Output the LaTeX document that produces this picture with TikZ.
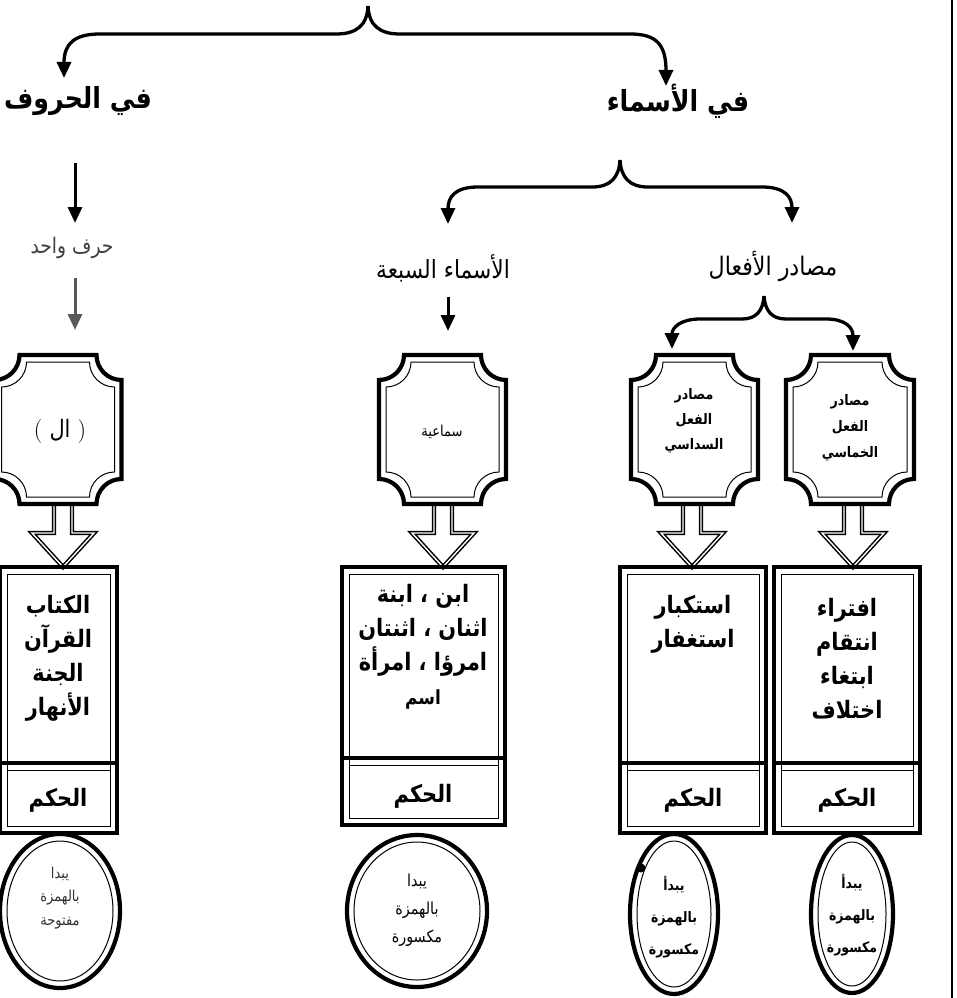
\documentclass[tikz,border=0pt]{standalone}
\usepackage{fontspec}
\usetikzlibrary{arrows.meta,calc}
\TeXXeTstate=1
\newfontfamily\arabicfont[Script=Arabic,FakeStretch=0.87]{DejaVu Sans}
\newcommand\AR[1]{{\arabicfont\beginR #1\endR}}
\newcommand\fsz[2]{\fontsize{#1}{#2}\selectfont}

% frame with concave (cut-in) corners drawn round a holder node
\newcommand\plaqueframe[1]{%
  \draw[frameout] let \p1=(#1.north west), \p2=(#1.south east) in
    (\x1+25pt,\y1) -- (\x2-25pt,\y1) arc[start angle=180,end angle=270,radius=25pt]
    -- (\x2,\y2+25pt) arc[start angle=90,end angle=180,radius=25pt]
    -- (\x1+25pt,\y2) arc[start angle=0,end angle=90,radius=25pt]
    -- (\x1,\y1-25pt) arc[start angle=270,end angle=360,radius=25pt] -- cycle;
  \draw[framein] let \p1=($(#1.north west)+(7,7)$), \p2=($(#1.south east)+(-7,-7)$) in
    (\x1+25pt,\y1) -- (\x2-25pt,\y1) arc[start angle=180,end angle=270,radius=25pt]
    -- (\x2,\y2+25pt) arc[start angle=90,end angle=180,radius=25pt]
    -- (\x1+25pt,\y2) arc[start angle=0,end angle=90,radius=25pt]
    -- (\x1,\y1-25pt) arc[start angle=270,end angle=360,radius=25pt] -- cycle;
}
% double-ruled box with a double divider at height #2
\newcommand\ruledbox[2]{%
  \draw[frameout] (#1.north west) rectangle (#1.south east);
  \draw[framein] ($(#1.north west)+(7,7)$) rectangle ($(#1.south east)+(-7,-7)$);
  \draw[line width=3.4pt] (#1.west |- 0,#2) -- (#1.east |- 0,#2);
  \draw[framein] ($(#1.west |- 0,#2)+(7,7)$) -- ($(#1.east |- 0,#2)+(-7,7)$);
}
% double ring round a holder node
\newcommand\ringframe[3]{%
  \draw[frameout] (#1.center) ellipse[x radius=#2pt, y radius=#3pt];
  \draw[framein] (#1.center) ellipse[x radius=#2pt-7pt, y radius=#3pt-7pt];
}
% hollow block arrow from a plaque down to a box, at abscissa #3
\newcommand\blockarrow[3]{%
  \draw[blockarr] let \p1=(#1.south), \p2=(#2.north) in
    (#3pt-9pt,\y1) -- (#3pt-9pt,\y2+34pt) -- (#3pt-31pt,\y2+34pt) -- (#3pt,\y2)
    -- (#3pt+31pt,\y2+34pt) -- (#3pt+9pt,\y2+34pt) -- (#3pt+9pt,\y1);
}

\tikzset{
  holder/.style={inner sep=0pt, outer sep=0pt, draw=none},
  txt/.style={inner sep=0pt, align=center},
  hd/.style={inner sep=0pt, font=\bfseries\fsz{29}{32}},
  bx/.style={inner sep=0pt, align=center, font=\bfseries\fsz{24}{34}},
  frameout/.style={line width=4.2pt, line join=miter},
  framein/.style={line width=1pt, line join=miter},
  brc/.style={line width=3.3pt, -{Triangle[width=14pt,length=16pt]}},
  arr/.style={line width=3pt, -{Triangle[width=14pt,length=16pt]}},
  blockarr/.style={draw=black, line width=1.5pt, double=white, double distance=1.4pt, line join=miter},
}

\begin{document}
\begin{tikzpicture}[x=1pt,y=-1pt]
\useasboundingbox (0,0) rectangle (957,998);
\clip (0,0) rectangle (957,998);

% headings
\node[hd] (huruf) at (78,101) {\AR{في الحروف}};
\node[hd] (asma) at (678,101) {\AR{في الأسماء}};
\node[txt, font=\fsz{21.5}{22}, text=black!75] (wahid) at (72,248) {\AR{حرف واحد}};
\node[txt, font=\fsz{25}{26}] (sabaa) at (443,268) {\AR{الأسماء السبعة}};
\node[txt, font=\fsz{25.5}{26}] (masadir) at (773,266) {\AR{مصادر الأفعال}};

% braces
\coordinate (k1) at (368,6);
\coordinate (t1) at (64,78);
\coordinate (t2) at (666,86);
\draw[brc] (k1) .. controls (367,26) and (356,34) .. (336,34) -- (100,34) .. controls (74,34) and (64,44) .. (t1);
\draw[brc] (k1) .. controls (369,26) and (380,34) .. (400,34) -- (630,34) .. controls (656,34) and (666,44) .. (t2);

\coordinate (k2) at (620,160);
\coordinate (t3) at (448,224);
\coordinate (t4) at (792,223);
\draw[brc] (k2) .. controls (619,178) and (610,187) .. (592,187) -- (478,187) .. controls (455,187) and (448,197) .. (t3);
\draw[brc] (k2) .. controls (621,178) and (630,187) .. (648,187) -- (762,187) .. controls (785,187) and (792,197) .. (t4);

\coordinate (k3) at (764,296);
\coordinate (t5) at (672,349);
\coordinate (t6) at (853,351);
\draw[brc] (k3) .. controls (763,311) and (756,319) .. (742,319) -- (700,319) .. controls (680,319) and (672,328) .. (t5);
\draw[brc] (k3) .. controls (765,311) and (772,319) .. (786,319) -- (826,319) .. controls (846,319) and (853,328) .. (t6);

% straight arrows
\coordinate (a1) at (75,163);
\coordinate (a2) at (75,223);
\coordinate (a3) at (75,278);
\coordinate (a4) at (75,330);
\coordinate (a5) at (448,297);
\coordinate (a6) at (448,331);
\draw[arr] (a1) -- (a2);
\draw[arr, black!65] (a3) -- (a4);
\draw[arr] (a5) -- (a6);

% plaques
\node[holder, minimum width=127pt, minimum height=149pt] (p1) at (58,429.5) {};
\node[holder, minimum width=127pt, minimum height=149pt] (p2) at (442.5,429.5) {};
\node[holder, minimum width=127pt, minimum height=149pt] (p3) at (694.5,429.5) {};
\node[holder, minimum width=128pt, minimum height=149pt] (p4) at (850,429.5) {};
\node[txt, font=\fsz{24}{26}] (p1t) at (60,431) {( \AR{ال} )};
\node[txt, font=\fsz{15}{18}] (p2t) at (442,432) {\AR{سماعية}};
\node[txt, font=\bfseries\fsz{14.5}{25}] (p3t) at (694,421) {\AR{مصادر}\\\AR{الفعل}\\\AR{السداسي}};
\node[txt, font=\bfseries\fsz{14.5}{26}] (p4t) at (850,428) {\AR{مصادر}\\\AR{الفعل}\\\AR{الخماسي}};

% boxes
\node[holder, minimum width=117pt, minimum height=266pt] (b1) at (58.5,700) {};
\node[holder, minimum width=163pt, minimum height=258pt] (b2) at (423.5,696) {};
\node[holder, minimum width=146pt, minimum height=266pt] (b3) at (693,700) {};
\node[holder, minimum width=146pt, minimum height=266pt] (b4) at (847,700) {};
\node[bx] (b1t) at (58,658) {\AR{الكتاب}\\\AR{القرآن}\\\AR{الجنة}\\\AR{الأنهار}};
\node[bx] (b2t) at (423,647) {\AR{ابن ، ابنة}\\\AR{اثنان ، اثنتان}\\\AR{امرؤا ، امرأة}\\{\fsz{19.5}{30}\AR{اسم}}};
\node[bx] (b3t) at (693,624) {\AR{استكبار}\\\AR{استغفار}};
\node[bx] (b4t) at (847,659) {\AR{افتراء}\\\AR{انتقام}\\\AR{ابتغاء}\\\AR{اختلاف}};
\node[bx] (h1) at (58,800) {\AR{الحكم}};
\node[bx] (h2) at (423,796) {\AR{الحكم}};
\node[bx] (h3) at (693,800) {\AR{الحكم}};
\node[bx] (h4) at (847,800) {\AR{الحكم}};

% rings
\node[holder] (r1) at (60,911) {};
\node[holder] (r2) at (417,911) {};
\node[holder] (r3) at (674,914) {};
\node[holder] (r4) at (852,914) {};
\node[txt, font=\fsz{15}{23.5}, text=black!80] (c1) at (60,898) {\AR{يبدا}\\\AR{بالهمزة}\\\AR{مفتوحة}};
\node[txt, font=\fsz{16.5}{28}] (c2) at (417,910) {\AR{يبدا}\\\AR{بالهمزة}\\\AR{مكسورة}};
\node[txt, font=\bfseries\fsz{14.4}{32}] (c3) at (674,917) {\AR{يبدأ}\\\AR{بالهمزة}\\\AR{مكسورة}};
\node[txt, font=\bfseries\fsz{14.4}{32}] (c4) at (852,915) {\AR{يبدأ}\\\AR{بالهمزة}\\\AR{مكسورة}};

% connectors between plaques and boxes
\blockarrow{p1}{b1}{63}
\blockarrow{p2}{b2}{443}
\blockarrow{p3}{b3}{692}
\blockarrow{p4}{b4}{853}

% frames
\plaqueframe{p1}
\plaqueframe{p2}
\plaqueframe{p3}
\plaqueframe{p4}
\ruledbox{b1}{763}
\ruledbox{b2}{758}
\ruledbox{b3}{763}
\ruledbox{b4}{763}
\ringframe{r1}{60}{77}
\ringframe{r2}{70}{76}
\ringframe{r3}{44}{80}
\ringframe{r4}{41}{79}
\fill (641,868) circle[radius=4.5pt];

% page rule on the right
\draw[line width=2.8pt] (952,-2) -- (952,1000);
\end{tikzpicture}
\end{document}
